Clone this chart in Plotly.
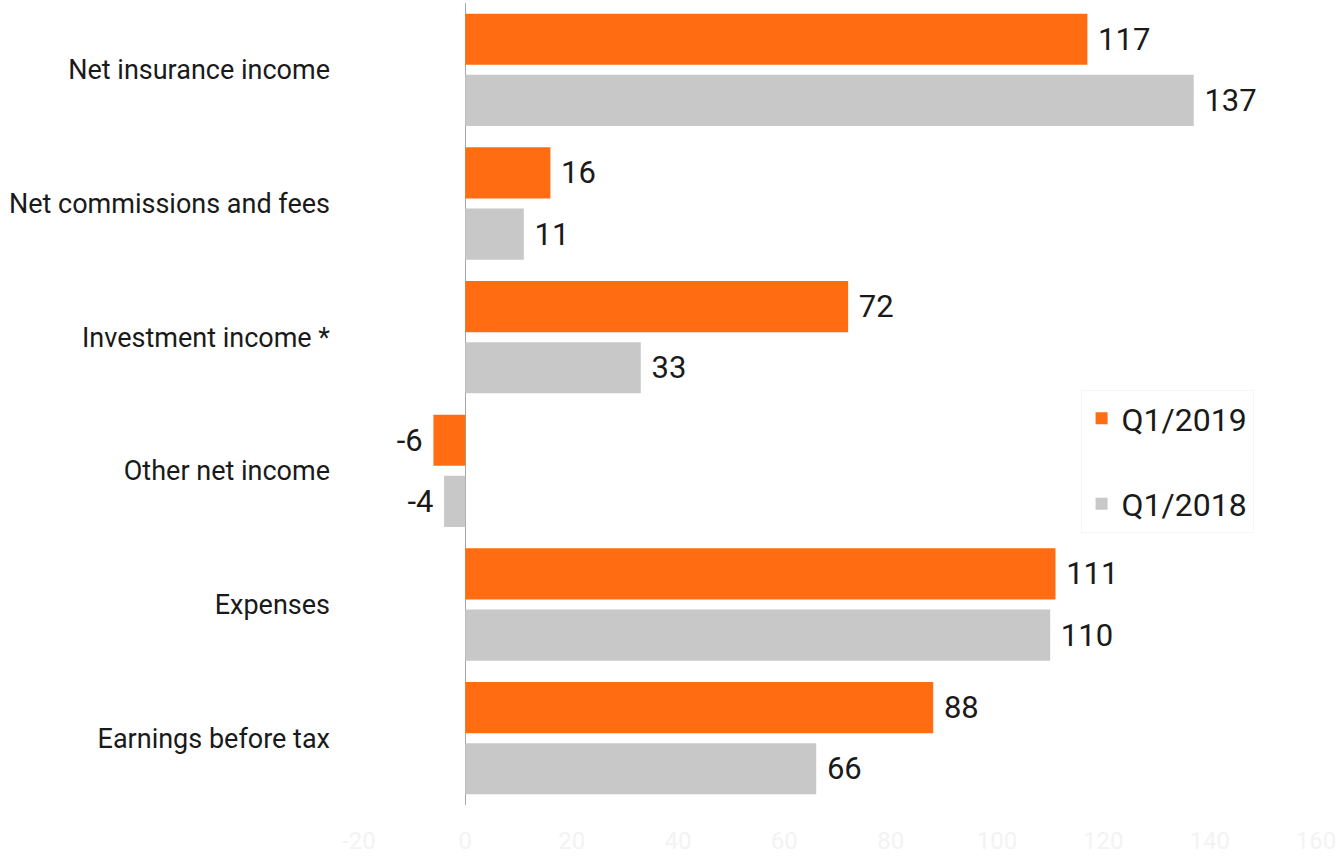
import plotly.graph_objects as go

categories = [
    "Net insurance income",
    "Net commissions and fees",
    "Investment income *",
    "Other net income",
    "Expenses",
    "Earnings before tax",
]
q1_2019 = [117, 16, 72, -6, 111, 88]
q1_2018 = [137, 11, 33, -4, 110, 66]
x_ticks = [-20, 0, 20, 40, 60, 80, 100, 120, 140, 160]
x_tick_text = ["-20", "0", "20", "40", "60", "80", "100", "120", "140", "160"]

ORANGE = "#FF6C12"
GREY = "#C8C8C8"
FONT = "Roboto"


def bar_label(v):
    # pad the value label away from the bar end
    return f" {v}" if v >= 0 else f"{v} "


fig = go.Figure()
for name, vals, color in [("Q1/2019", q1_2019, ORANGE), ("Q1/2018", q1_2018, GREY)]:
    fig.add_trace(go.Bar(
        y=categories, x=vals, name=name, orientation="h",
        marker=dict(color=color, line=dict(width=0)),
        text=[bar_label(v) for v in vals], textposition="outside",
        textfont=dict(family=FONT, size=31, color="#1a1a1a"),
        cliponaxis=False, legendgroup=name,
    ))

fig.update_layout(
    width=1344, height=859,
    margin=dict(l=359, r=28, t=3, b=54),
    paper_bgcolor="white", plot_bgcolor="white",
    barmode="group", bargap=0.085, bargroupgap=0.164,
    font=dict(family=FONT, color="#1a1a1a"),
    showlegend=True,
    legend=dict(
        x=0.754, y=0.5175, xanchor="left", yanchor="top",
        bgcolor="white", bordercolor="#f6f6f6", borderwidth=1,
        font=dict(family=FONT, size=32, color="#1a1a1a"),
        tracegroupgap=41, traceorder="grouped",
    ),
    xaxis=dict(
        range=[-20, 160], tickvals=x_ticks, ticktext=x_tick_text, showgrid=False,
        zeroline=True, zerolinecolor="#a6a6a6", zerolinewidth=1,
        showline=False, ticks="", automargin=False,
        tickfont=dict(family=FONT, size=24, color="#f3f3f3"),
        ticklabelstandoff=19,
    ),
    yaxis=dict(
        autorange="reversed", showgrid=False, showline=False, ticks="",
        automargin=False,
        tickfont=dict(family=FONT, size=27, color="#1a1a1a"),
        ticklabelstandoff=28,
    ),
)

fig.write_html("out.html")
